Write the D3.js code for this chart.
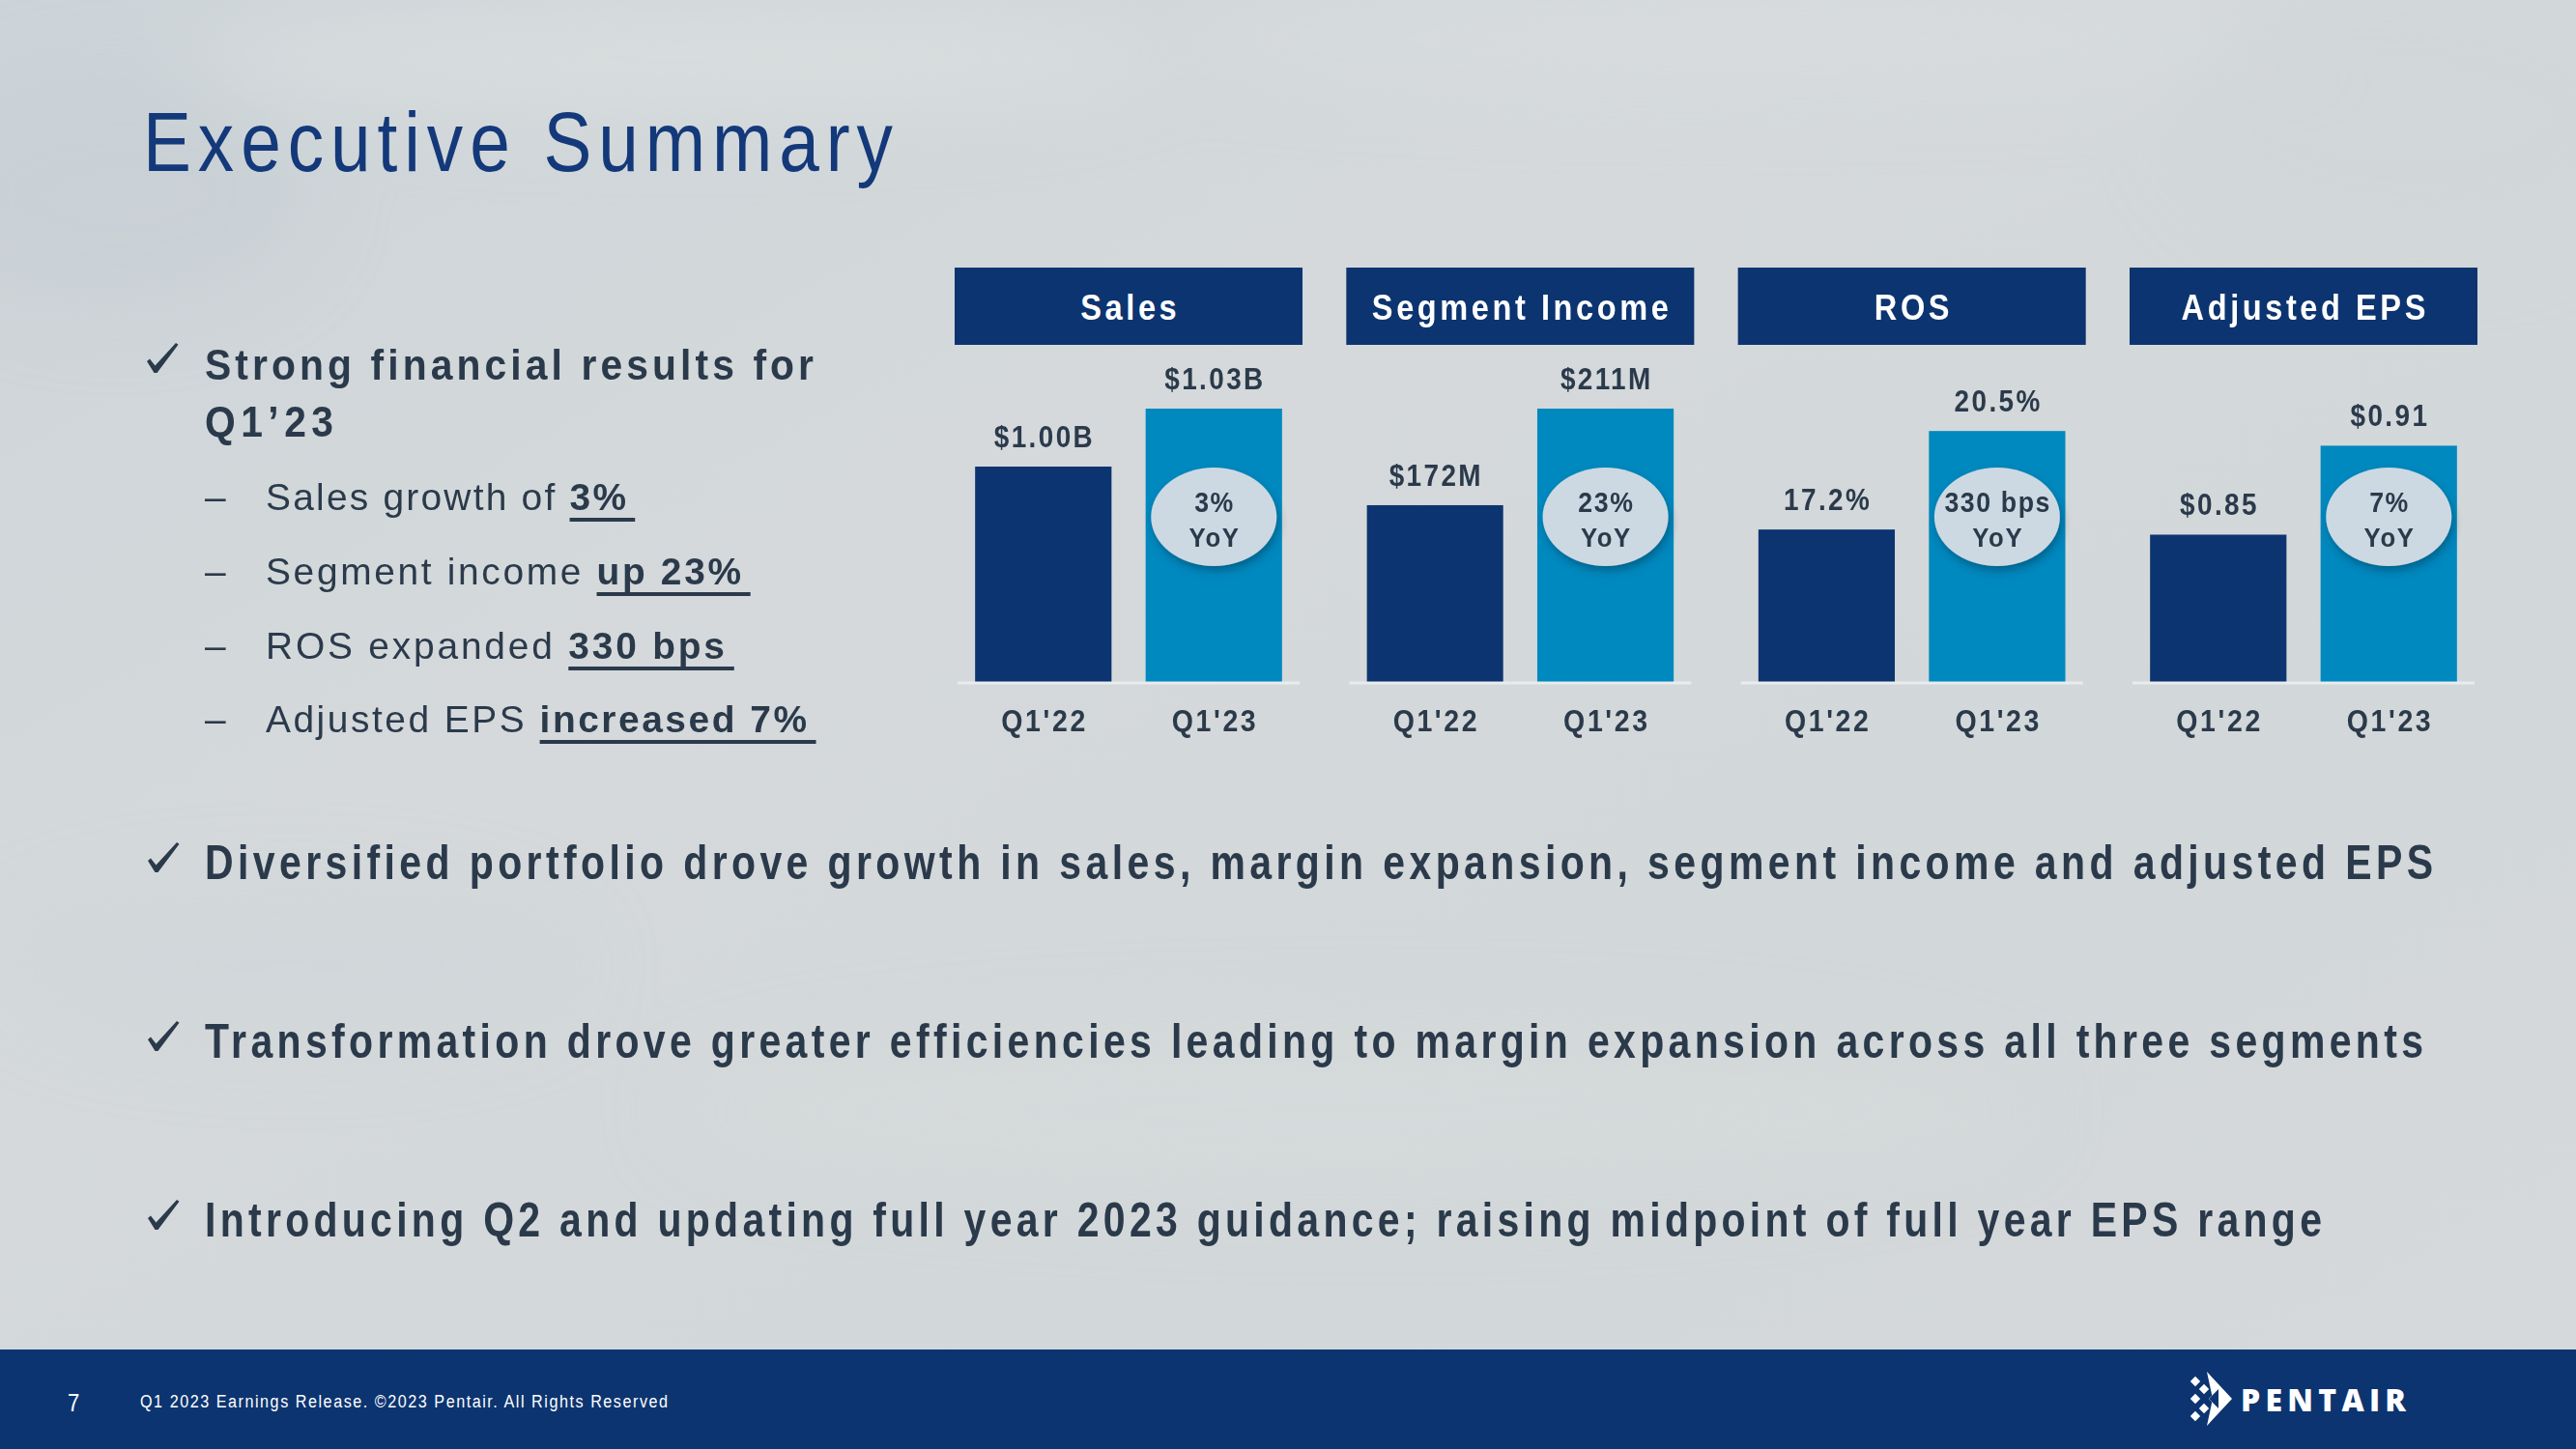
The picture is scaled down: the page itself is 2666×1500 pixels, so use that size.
<!DOCTYPE html>
<html>
<head>
<meta charset="utf-8">
<script src="https://cdn.jsdelivr.net/npm/d3@7"></script>
<style>
  html, body { margin: 0; padding: 0; background: #d3d8da; }
  svg { display: block; }
</style>
</head>
<body>
<svg id="slide" width="2666" height="1500"></svg>
<script>
// ---------------- DATA ----------------
const panelTitles = ["Sales", "Segment Income", "ROS", "Adjusted EPS"];
const periods = ["Q1'22", "Q1'23"];
const valuesQ122 = [1.00, 172, 17.2, 0.85];
const valuesQ123 = [1.03, 211, 20.5, 0.91];
const valueFormats = [
  d => `$${d.toFixed(2)}B`,
  d => `$${d}M`,
  d => `${d.toFixed(1)}%`,
  d => `$${d.toFixed(2)}`
];
const yoyLabels = ["3%", "23%", "330 bps", "7%"];
// truncated value axes, as on the slide
const axisFloor = [0.888, 100.2, 12.06, 0.750];
const axisCeil  = [1.03, 211, 21.25, 0.935];

const titleText = "Executive Summary";
const leadBullet = ["Strong financial results for", "Q1\u201923"];
const subBullets = [
  ["Sales growth of ", "3%"],
  ["Segment income ", "up 23%"],
  ["ROS expanded ", "330 bps"],
  ["Adjusted EPS ", "increased 7%"]
];
const mainBullets = [
  "Diversified portfolio drove growth in sales, margin expansion, segment income and adjusted EPS",
  "Transformation drove greater efficiencies leading to margin expansion across all three segments",
  "Introducing Q2 and updating full year 2023 guidance; raising midpoint of full year EPS range"
];
const footerText = "Q1 2023 Earnings Release. \u00A92023 Pentair. All Rights Reserved";
const pageNumber = "7";

// ---------------- STYLE ----------------
const NAVY = "#0c3470";
const LIGHTBLUE = "#0089bf";
const TEXT = "#2b3a4b";
const FONT = "'Liberation Sans', Arial, sans-serif";

const svg = d3.select("#slide");
const W = 2666, H = 1500;

// ---------------- BACKGROUND ----------------
const defs = svg.append("defs");
const bg = defs.append("linearGradient").attr("id", "bg").attr("x1", 0).attr("y1", 0).attr("x2", 1).attr("y2", 1);
bg.append("stop").attr("offset", "0%").attr("stop-color", "#ccd4d8");
bg.append("stop").attr("offset", "35%").attr("stop-color", "#d5d9db");
bg.append("stop").attr("offset", "70%").attr("stop-color", "#d2d7d9");
bg.append("stop").attr("offset", "100%").attr("stop-color", "#d6d9db");
const blur = defs.append("filter").attr("id", "blur").attr("x", "-50%").attr("y", "-50%").attr("width", "200%").attr("height", "200%");
blur.append("feGaussianBlur").attr("stdDeviation", 40);
const shadow = defs.append("filter").attr("id", "shadow").attr("x", "-30%").attr("y", "-30%").attr("width", "160%").attr("height", "160%");
shadow.append("feDropShadow").attr("dx", 2).attr("dy", 5).attr("stdDeviation", 4)
  .attr("flood-color", "#00304f").attr("flood-opacity", 0.45);

svg.append("rect").attr("width", W).attr("height", H).attr("fill", "url(#bg)");
const clouds = svg.append("g").attr("filter", "url(#blur)");
[[700, 60, 500, 60, "#dcdfe0", 0.7], [1800, 40, 600, 50, "#dadedf", 0.6],
 [120, 200, 200, 120, "#c6cfd4", 0.6], [2500, 120, 250, 140, "#cfd5d8", 0.5],
 [1400, 1150, 700, 90, "#d8dbdc", 0.5], [300, 1000, 300, 80, "#d0d6d9", 0.5]]
  .forEach(c => clouds.append("ellipse").attr("cx", c[0]).attr("cy", c[1]).attr("rx", c[2]).attr("ry", c[3])
    .attr("fill", c[4]).attr("opacity", c[5]));

// condensed text: a group scaled horizontally by sx, text placed at its origin
function ntext(parent, x, y, size, weight, fill, anchor, sx) {
  const g = parent.append("g").attr("transform", `translate(${x},${y}) scale(${sx},1)`);
  const t = g.append("text").attr("x", 0).attr("y", 0).attr("font-family", FONT).attr("font-size", size)
    .attr("font-weight", weight || "normal").attr("fill", fill || TEXT).attr("text-anchor", anchor || "start");
  t.sx = sx;
  return t;
}
// fit letter spacing so text spans target width (page px); returns spacing in local units
function fitWidth(sel, target, sx) {
  const node = sel.node();
  const n = node.getNumberOfChars();
  sel.attr("letter-spacing", 0);
  const w = node.getComputedTextLength();
  const ls = n > 1 ? (target / sx - w) / (n - 1) : 0;
  sel.attr("letter-spacing", ls);
  return ls;
}
function spacingFor(str, size, target, sx) {
  const t = svg.append("text").attr("font-family", FONT).attr("font-size", size).attr("font-weight", "bold").text(str);
  const n = t.node().getNumberOfChars();
  const w = t.node().getComputedTextLength();
  t.remove();
  return (target / sx - w) / (n - 1);
}
function checkMark(x, y) {
  svg.append("path").attr("transform", `translate(${x},${y})`).attr("fill", TEXT)
    .attr("d", "M0,19 L3,16.5 L8.5,23.5 L30,0 L32.5,1.8 L10.5,31 L7.5,31 Z");
}

// ---------------- TITLE ----------------
const SX_TITLE = 0.86;
const title = ntext(svg, 148, 177, 87, "normal", "#14397a", "start", SX_TITLE).text(titleText);
fitWidth(title, 776, SX_TITLE);

// ---------------- LEFT BULLETS ----------------
const SX_LEAD = 0.92;
checkMark(152, 355);
const lead1 = ntext(svg, 212, 393, 44.4, "bold", TEXT, "start", SX_LEAD).text(leadBullet[0]);
fitWidth(lead1, 630, SX_LEAD);
const lead2 = ntext(svg, 212, 452, 44.4, "bold", TEXT, "start", SX_LEAD).text(leadBullet[1]);
fitWidth(lead2, 133, SX_LEAD);

const SX_SUB = 1.0;
const subY = [528, 605, 682, 758];
const subEnds = [648, 767, 750, 835];
subBullets.forEach((b, i) => {
  svg.append("text").attr("x", 212).attr("y", subY[i]).attr("font-family", FONT)
    .attr("font-size", 38.9).attr("fill", TEXT).text("\u2013");
  const t = ntext(svg, 275, subY[i], 38.9, "normal", TEXT, "start", SX_SUB);
  t.append("tspan").text(b[0]);
  t.append("tspan").attr("font-weight", "bold").text(b[1]);
  fitWidth(t, subEnds[i] - 275, SX_SUB);
  const node = t.node();
  const i0 = b[0].length, i1 = b[0].length + b[1].length - 1;
  const xs = 275 + node.getStartPositionOfChar(i0).x * SX_SUB;
  const xe = 275 + node.getEndPositionOfChar(i1).x * SX_SUB + 7;
  svg.append("rect").attr("x", xs).attr("y", subY[i] + 8).attr("width", xe - xs).attr("height", 4).attr("fill", TEXT);
});

// ---------------- MAIN BULLETS ----------------
const SX_MAIN = 0.82;
const mainY = [910, 1095, 1280];
const mainEnds = [2518, 2508, 2403];
mainBullets.forEach((s, i) => {
  checkMark(153, mainY[i] - 38);
  const t = ntext(svg, 212, mainY[i], 50, "bold", TEXT, "start", SX_MAIN).text(s);
  fitWidth(t, mainEnds[i] - 212, SX_MAIN);
});

// ---------------- CHARTS ----------------
const baseY = 707, topY = 423;
const panelX = d3.scaleBand().domain(panelTitles).range([988, 2564]).paddingInner(0.1118);
const pw = panelX.bandwidth();

const SX_HEAD = 0.88, SX_VAL = 0.9, SX_CAT = 0.92, SX_YOY = 0.92;
const headerLS = spacingFor("Segment Income", 37, 307, SX_HEAD);
const valueLS = spacingFor("$1.00B", 31, 102, SX_VAL);
const catLS = spacingFor("Q1'22", 31, 87, SX_CAT);
const yoyLS = spacingFor("330 bps", 29, 109, SX_YOY);

panelTitles.forEach((name, i) => {
  const g = svg.append("g").attr("transform", `translate(${panelX(name)},0)`);
  // header
  g.append("rect").attr("x", 0).attr("y", 277).attr("width", pw).attr("height", 80).attr("fill", NAVY);
  ntext(g, pw / 2 + headerLS * SX_HEAD / 2, 331, 37, "bold", "#ffffff", "middle", SX_HEAD)
    .attr("letter-spacing", headerLS).text(name);

  const x = d3.scaleBand().domain(periods).range([0, pw]).paddingInner(0.2).paddingOuter(0.12);
  const y = d3.scaleLinear().domain([axisFloor[i], axisCeil[i]]).range([baseY, topY]);
  const vals = [valuesQ122[i], valuesQ123[i]];
  const data = periods.map((p, k) => ({ p, v: vals[k] }));

  g.selectAll("rect.bar").data(data).enter().append("rect").attr("class", "bar")
    .attr("x", d => x(d.p)).attr("width", x.bandwidth())
    .attr("y", d => y(d.v)).attr("height", d => baseY - y(d.v))
    .attr("fill", (d, k) => k === 0 ? NAVY : LIGHTBLUE);

  data.forEach(d => {
    ntext(g, x(d.p) + x.bandwidth() / 2 + valueLS * SX_VAL / 2, y(d.v) - 20, 31, "bold", TEXT, "middle", SX_VAL)
      .attr("letter-spacing", valueLS).text(valueFormats[i](d.v));
  });

  // axis (baseline + category labels)
  const axis = g.append("g").attr("transform", `translate(0,${baseY})`)
    .call(d3.axisBottom(x).tickSize(0).tickPadding(28));
  axis.select(".domain").attr("stroke", "#e9ecee").attr("stroke-width", 3)
    .attr("d", `M3,0H${pw - 3}`);
  axis.selectAll(".tick text")
    .attr("font-family", FONT).attr("font-size", 31).attr("font-weight", "bold")
    .attr("fill", TEXT).attr("letter-spacing", catLS).attr("dx", catLS / 2)
    .attr("transform", `scale(${SX_CAT},1)`);

  // YoY bubble
  const cx = x(periods[1]) + x.bandwidth() / 2;
  g.append("ellipse").attr("cx", cx).attr("cy", 535).attr("rx", 65).attr("ry", 51)
    .attr("fill", "#ccd9e2").attr("filter", "url(#shadow)");
  ntext(g, cx + yoyLS * SX_YOY / 2, 530, 29, "bold", TEXT, "middle", SX_YOY)
    .attr("letter-spacing", yoyLS).text(yoyLabels[i]);
  ntext(g, cx + yoyLS * SX_YOY / 2, 566, 28, "bold", TEXT, "middle", SX_YOY)
    .attr("letter-spacing", yoyLS).text("YoY");
});

// ---------------- FOOTER ----------------
svg.append("rect").attr("x", 0).attr("y", 1397).attr("width", W).attr("height", H - 1397).attr("fill", NAVY);
ntext(svg, 70, 1461, 26, "normal", "#ffffff", "start", 0.85).text(pageNumber);
const ft = ntext(svg, 145, 1457, 19, "normal", "#ffffff", "start", 0.85).text(footerText);
fitWidth(ft, 546, 0.85);

// logo
const logo = svg.append("g").attr("fill", "#ffffff");
logo.append("path").attr("d", "M2284,1420 L2310,1448 L2284,1476 L2290,1448 Z");
[[2291, 1448], [2281, 1438], [2281, 1458], [2272, 1448], [2272, 1430], [2272, 1466]].forEach(c => {
  const s = 5.2;
  logo.append("path").attr("d", `M${c[0] - s},${c[1]} L${c[0]},${c[1] - s} L${c[0] + s},${c[1]} L${c[0]},${c[1] + s} Z`);
});
logo.append("path").attr("fill", NAVY).attr("d", "M2286,1448 L2296,1438 L2296,1458 Z");
const lt = svg.append("text").attr("x", 2319).attr("y", 1461).attr("font-family", "'Open Sans', 'DejaVu Sans', sans-serif")
  .attr("font-size", 32).attr("font-weight", 800).attr("fill", "#ffffff").text("PENTAIR");
fitWidth(lt, 171, 1);
</script>
</body>
</html>
